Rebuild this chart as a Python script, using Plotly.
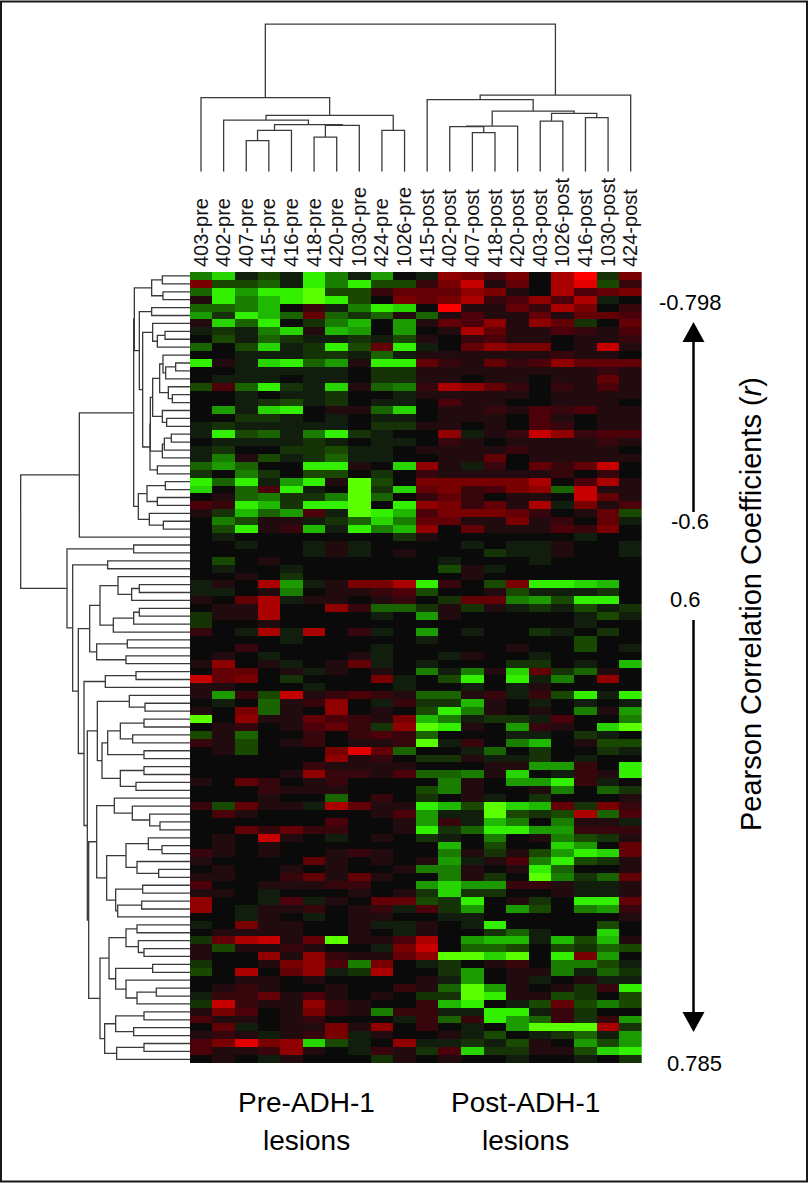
import plotly.graph_objects as go

W, H = 809, 1183

samples = ["403-pre", "402-pre", "407-pre", "415-pre", "416-pre", "418-pre", "420-pre", "1030-pre", "424-pre", "1026-pre",
           "415-post", "402-post", "407-post", "418-post", "420-post", "403-post", "1026-post", "416-post", "1030-post", "424-post"]

# Signed expression level per row, -10 (green) .. +10 (red)
rows_top = [
    [-5,-8,-1,-3,-1,-9,-5,-1,-6,0,-1,6,5,3,5,0,7,10,-2,5],
    [5,-3,-3,-4,-1,-9,-5,-9,-3,-3,2,5,8,1,4,0,7,9,-3,2],
    [-4,-9,-6,-9,-9,-10,-3,-3,2,4,4,4,6,5,1,0,7,3,4,5],
    [1,-9,-5,-7,-9,-10,-9,-3,0,5,4,5,7,2,3,6,3,7,-1,0],
    [-4,-4,-5,-7,0,2,-1,-5,-9,-8,0,10,1,1,4,2,7,5,0,2],
    [-6,-2,-9,-7,-4,4,-4,-2,-4,1,-4,1,3,1,1,4,1,4,4,3],
    [1,-8,-4,-9,0,-2,-5,-7,0,-6,1,4,3,6,1,6,4,-2,0,4],
    [-1,-2,-1,-5,-8,1,-7,-6,0,-6,0,1,7,4,1,1,3,2,1,3],
    [0,-3,-1,-4,-2,-1,-1,-2,-1,-3,1,0,2,3,1,1,0,1,1,2],
    [-4,0,-3,-8,-1,-2,-9,-3,4,-9,-1,0,4,6,5,5,0,1,8,1],
    [0,0,-1,-1,-1,-2,-2,-1,-4,-1,1,1,1,1,1,1,2,1,1,0],
    [-9,1,-1,-8,-9,-4,-6,1,-9,-9,4,2,1,4,2,3,6,4,4,4],
    [0,0,-1,-1,-1,-1,-1,0,-2,-2,1,1,1,1,1,1,1,1,2,1],
    [0,-1,-1,-1,0,-1,-1,0,-2,-2,1,1,0,1,1,0,1,1,4,1],
    [-3,3,-4,-9,-2,-1,-8,1,-4,-5,2,7,6,4,2,0,2,1,3,1],
    [0,0,-1,0,-1,-1,-2,0,0,-1,1,1,1,1,1,0,1,1,1,1],
    [0,0,-1,-2,-3,-1,-2,0,-1,-1,0,3,1,1,0,0,1,1,1,0],
    [0,-6,-1,-8,-9,0,1,1,-4,-8,0,1,1,2,1,3,2,3,1,1],
    [0,0,-2,-2,-1,0,-1,0,-1,-1,0,1,1,1,0,3,1,0,1,1],
    [-1,-2,-1,-1,-1,-1,-1,0,-2,-2,1,1,0,1,0,3,2,0,1,1],
    [-1,-9,-3,-4,-1,-5,-9,-2,-1,0,0,6,-1,1,2,8,6,2,3,3],
    [0,-1,-1,-1,-1,-2,-1,0,-1,-1,0,2,1,0,1,1,1,1,2,1],
    [-1,-2,0,0,-2,-2,-3,-1,-1,0,1,1,1,1,2,1,1,1,1,0],
    [-1,-5,1,-3,-1,-2,-4,-1,-1,0,0,1,1,4,0,1,1,1,1,1],
    [-4,-6,-4,0,0,-9,-9,1,0,-8,6,1,-1,2,0,4,2,4,8,0],
    [-2,0,-5,-2,0,-3,-3,0,-2,0,2,1,1,1,1,1,2,0,2,0],
    [-9,-4,-9,-1,-6,-9,1,-10,-3,0,5,5,5,5,5,7,0,3,7,1],
    [-8,0,-4,3,-9,-1,0,-10,-2,-8,4,5,2,3,5,6,-4,8,1,1],
    [0,1,-4,-5,-2,-2,-5,-10,-4,0,2,4,2,0,1,1,0,8,4,1],
    [3,2,-9,-7,-2,-9,-9,-10,0,-9,6,5,2,4,1,7,-1,5,1,3],
    [1,-2,-7,-4,-6,3,-1,-10,-9,-7,3,5,5,5,4,2,0,1,4,-3],
    [0,-5,-3,1,1,-1,-2,-4,-8,-5,4,4,1,1,5,1,2,0,4,-1],
    [0,-3,-9,1,2,-7,-1,-9,-5,-7,6,0,4,1,1,1,3,2,5,0],
]
rows_middle = [
    [0,-1,0,0,0,0,0,0,0,-2,1,0,0,0,0,0,0,-1,0,0],
    [0,0,-1,0,0,-1,1,-1,0,0,0,0,-1,0,-1,-1,1,0,0,-1],
    [0,0,0,0,0,-1,1,-1,0,1,0,0,0,-2,-1,-1,1,0,0,-1],
    [0,-3,0,1,0,0,0,0,0,0,0,-1,0,0,0,-1,0,0,0,0],
    [0,-1,0,0,-1,0,0,0,0,0,0,-3,1,-1,0,0,0,0,0,0],
    [0,0,1,0,-2,0,0,0,0,0,0,0,1,0,0,0,0,0,0,0],
    [-1,1,0,7,-6,-1,1,5,5,7,-9,2,0,-3,5,-9,-9,-8,-7,0],
    [-1,-1,0,1,-5,0,1,1,2,3,-3,0,0,1,-3,-1,-1,-1,-2,0],
    [1,0,4,7,-1,1,1,0,1,2,0,-2,4,4,-5,-6,-3,-9,-9,0],
    [0,1,1,7,0,0,6,2,-4,-4,-2,1,-2,1,-1,-2,-1,-3,-1,-2],
    [-2,1,1,7,0,0,0,0,-1,0,-6,1,0,0,0,0,0,-1,-3,-1],
    [-2,0,0,1,0,0,0,0,0,0,0,0,0,0,0,0,0,-1,0,0],
    [2,0,-1,7,-1,7,0,2,-1,0,-6,0,-1,0,0,-2,-1,0,-2,0],
    [0,0,0,0,-1,0,0,0,0,0,-1,0,0,0,0,0,0,-3,0,0],
    [0,0,2,0,0,0,0,0,-1,0,0,0,0,0,1,0,0,-3,0,-1],
    [0,1,0,-1,0,0,0,1,-1,0,0,-1,1,0,0,-1,0,0,0,0],
    [1,6,0,1,-1,0,1,4,-1,0,-1,0,0,0,-2,-2,0,-1,0,-7],
    [0,4,4,0,1,-1,1,0,1,0,-5,-1,-5,1,-8,4,-2,-4,1,0],
    [8,4,5,0,-2,0,0,0,5,-1,0,-3,-9,0,-9,-1,-5,0,6,0],
    [1,1,0,0,0,-1,0,0,0,-1,0,0,-1,0,-1,1,0,0,0,0],
    [1,-6,2,-3,8,1,2,3,2,1,-4,-4,1,2,-1,2,-3,-9,-1,-9],
    [0,-1,0,-4,1,2,6,0,-1,2,-2,-2,-7,1,0,-1,0,-1,0,-1],
    [1,0,5,-4,1,0,6,0,1,0,-3,-9,-5,1,0,1,0,-5,1,-6],
    [-10,0,6,1,1,4,3,2,1,5,-7,-5,-1,-2,-2,-1,3,0,0,-5],
    [0,1,2,0,1,3,4,2,-2,6,-10,-9,1,0,-6,2,1,0,-8,-10],
    [-3,1,-4,0,0,2,0,2,3,2,-4,0,0,0,-1,-1,0,-2,-1,0],
    [2,1,-3,0,1,2,0,1,1,2,-10,-1,2,0,-5,-7,0,1,-3,-3],
    [0,1,-3,0,0,0,5,9,4,-4,0,0,-1,-4,0,-2,0,0,-2,-1],
    [0,0,0,0,0,0,6,1,2,0,-2,-2,1,-1,-1,-2,0,-1,0,0],
    [0,0,0,0,0,2,1,1,1,1,0,0,0,1,1,-6,-6,2,0,-9],
    [0,0,0,0,1,6,2,2,1,3,-4,-4,-5,1,-8,0,-1,2,1,-9],
    [1,0,4,2,0,1,2,0,0,0,0,-5,1,0,-6,-6,-9,2,-1,0],
    [0,0,0,2,1,1,1,0,0,0,-3,-5,1,0,0,1,-5,0,-4,-2],
    [0,0,0,1,0,0,-4,0,2,0,-2,0,1,-1,0,-2,0,0,0,1],
]
rows_bottom = [
    [2,-3,4,1,1,-1,7,4,1,1,-9,-7,-3,-10,-8,-7,4,-2,5,2],
    [0,3,1,0,0,0,0,0,1,3,-6,-1,-1,-10,-3,-2,-3,7,-4,3],
    [0,0,0,0,0,0,3,0,0,1,-6,2,-1,-7,-5,0,-5,1,1,-1],
    [0,0,4,2,4,2,2,0,0,1,-9,-2,-4,-9,-9,-6,-6,2,2,2],
    [0,1,0,8,1,0,-1,0,1,0,-2,-1,0,-5,0,1,-5,-3,-2,1],
    [0,1,0,1,0,0,0,0,0,0,0,-7,0,-3,0,0,-8,-6,0,4],
    [2,1,0,1,0,0,1,2,1,0,0,-5,1,-2,1,-3,-6,-9,-8,4],
    [1,0,0,0,0,4,1,0,1,0,1,-6,-1,1,3,-5,-9,-3,-2,1],
    [0,1,0,0,1,0,1,0,0,1,-5,-5,1,0,1,-9,-4,0,0,1],
    [1,1,0,0,2,4,1,4,1,0,0,-5,1,-2,0,-10,-5,-2,-4,4],
    [3,0,0,1,1,1,2,2,0,0,-6,-8,-6,-6,2,2,1,-1,-1,1],
    [1,1,0,-1,0,0,0,1,0,1,-2,-8,-2,-2,0,0,1,-1,-1,1],
    [6,0,0,-1,3,-1,1,0,4,4,-3,-2,-9,0,1,-2,0,-9,-9,4],
    [6,0,-1,1,1,2,0,1,2,-1,3,-2,-6,0,-6,-3,0,-5,-6,2],
    [0,0,-1,1,0,-1,0,1,1,0,0,-1,-1,0,0,0,0,0,0,1],
    [-1,0,5,1,1,0,0,1,-1,-1,1,0,-1,-9,0,0,0,0,-3,0],
    [0,1,1,1,1,0,0,1,0,-1,1,0,0,-2,-4,-1,0,0,-8,0],
    [-2,4,7,8,1,4,-10,1,1,3,7,0,-6,-7,-7,-1,-7,-3,-7,1],
    [1,-3,1,1,2,1,0,0,-1,5,8,0,-4,-4,-3,0,-3,-2,-4,-3],
    [1,0,0,6,1,6,2,1,1,4,6,-10,-10,-8,-10,0,-9,5,-6,0],
    [-2,0,0,1,5,6,3,-5,5,0,-1,-2,0,1,2,0,-5,-5,-3,-1],
    [-3,0,7,0,4,6,-1,-2,7,0,0,-2,-6,0,1,1,-5,-1,-4,-2],
    [0,0,1,1,0,1,0,0,0,0,1,-1,-6,0,1,-1,0,1,-1,-1],
    [0,1,2,1,0,0,1,0,0,2,1,-4,-10,-6,1,0,1,-2,2,-9],
    [-1,2,2,4,1,3,1,0,1,0,-2,-2,-10,-9,1,1,-3,-2,0,-3],
    [-2,8,2,1,1,6,2,1,0,0,2,-7,-9,0,-1,-3,4,-3,-5,-3],
    [1,5,3,0,1,5,2,1,-5,2,2,-1,-1,-9,-9,-1,2,-2,0,0],
    [3,1,1,0,1,2,0,0,0,-1,2,-4,2,-9,-6,-4,2,-2,2,-6],
    [0,4,-1,0,1,1,5,1,6,0,2,0,-1,0,-6,-10,-10,-10,7,-2],
    [1,2,1,-1,1,2,5,-1,1,0,0,1,-1,-3,0,-1,-2,-4,-1,-6],
    [3,5,9,5,6,-8,-3,-1,0,6,-1,-1,-2,-1,-3,1,0,-6,-3,-6],
    [3,1,1,2,6,1,0,-1,2,1,-2,3,-8,-2,-2,1,1,-3,-8,-9],
    [0,1,0,-1,1,0,0,0,-2,1,0,1,0,0,-1,0,0,-1,0,-2],
]
expression = rows_top + rows_middle + rows_bottom

colorscale_stops = [
    (-10, "rgb(90,255,0)"), (-9, "rgb(50,240,0)"), (-7, "rgb(30,185,0)"), (-5, "rgb(25,125,0)"),
    (-3, "rgb(25,72,0)"), (-1, "rgb(17,30,14)"), (0, "rgb(10,10,10)"), (1, "rgb(33,11,15)"),
    (3, "rgb(76,0,10)"), (5, "rgb(120,0,0)"), (7, "rgb(170,0,0)"), (10, "rgb(255,0,0)"),
]

# Sample clustering: (distance, left, right); integers are column positions
col_tree = (443,
    (222, 0, (169, (155, 1, (141, (124, (93, 2, 3), 4), (139, (104, 5, 6), 7))), (124, 8, 9))),
    (230, (216, 10, (182, (137, (135, 11, (117, 12, 13)), 14),
                     (175, (152, 15, 16), (162, 17, 18)))), 19))

# Gene clustering: (distance, left, right); integers are row positions
c_0_3 = (115, (83, 0, 1), (81, 2, 3))
c_4_5 = (115, 4, 5)
c_6_9 = (112, 6, (98, (75, 7, 8), 9))
c_10_13 = (81, 10, (73, (43, 11, 12), 13))
c_14_16 = (65, 14, (53, 15, 16))
c_10_16 = (91, c_10_13, c_14_16)
c_17_19 = (83, 17, (70, 18, 19))
c_10_19 = (112, c_10_16, c_17_19)
c_20_23 = (83, (77, (56, 20, 21), 22), 23)
c_10_23 = (119, c_10_19, c_20_23)
c_10_25 = (120, c_10_23, (98, 24, 25))
c_6_25 = (142, c_6_9, c_10_25)
c_4_25 = (152, c_4_5, c_6_25)
c_0_25 = (167, c_0_3, c_4_25)
c_26_29 = (129, (74, 26, 27), (98, 28, 29))
c_30_32 = (122, 30, (80, 31, 32))
c_26_32 = (155, c_26_29, c_30_32)
c_0_32 = (169, c_0_25, c_26_32)
c_0_33 = (332, c_0_32, 33)
c_34_35 = (169, 34, 35)
c_36_37 = (247, 36, 37)
c_38_41 = (216, 38, (175, (152, 39, 40), 41))
c_42_45 = (230, (169, (152, 42, 43), 44), 45)
c_38_45 = (270, c_38_41, c_42_45)
c_46_49 = (280, (188, 46, 47), (192, 48, 49))
c_38_49 = (301, c_38_45, c_46_49)
c_50_52 = (254, (162, 50, 51), 52)
c_53_55 = (182, 53, (135, 54, 55))
c_56_61 = (247, (209, (138, 56, 57), (172, 58, 59)), (138, 60, 61))
c_62_65 = (209, (138, 62, 63), (162, 64, 65))
c_56_65 = (264, c_56_61, c_62_65)
c_53_65 = (278, c_53_55, c_56_65)
c_66_70 = (227, 66, (173, 67, (121, 68, (90, 69, 70))))
c_71_76 = (192, (125, 71, (84, 72, 73)), (159, 74, (94, 75, 76)))
c_77_81 = (223, (142, 77, 78), (217, (145, 79, 80), 81))
c_71_81 = (250, c_71_76, c_77_81)
c_66_81 = (280, c_66_70, c_71_81)
c_82_86 = (192, (159, 82, 83), (155, 84, (138, 85, 86)))
c_87_92 = (223, (112, 87, 88), (192, 89, (159, (101, 90, 91), 92)))
c_82_92 = (243, c_82_86, c_87_92)
c_93_99 = (256, (223, (138, 93, 94), (169, 95, 96)), (220, (138, 97, 98), 99))
c_82_99 = (270, c_82_92, c_93_99)
c_66_99 = (304, c_66_81, c_82_99)
c_53_99 = (308, c_53_65, c_66_99)
c_50_99 = (318, c_50_52, c_53_99)
c_38_99 = (335, c_38_49, c_50_99)
c_36_99 = (352, c_36_37, c_38_99)
c_34_99 = (369, c_34_35, c_36_99)
row_tree = (508, c_0_33, c_34_99)


def walk(node, pos, dist):
    """Append the elbow segments of a tree; returns the node's (position, distance)."""
    if isinstance(node, int):
        return node, 0
    d, left, right = node
    p1, d1 = walk(left, pos, dist)
    p2, d2 = walk(right, pos, dist)
    pos += [p1, p1, p2, p2, None]
    dist += [d1, d, d, d2, None]
    return (p1 + p2) / 2, d


def px(x):
    return x / W


def py(y):
    return 1 - y / H


col_pos, col_dist, row_pos, row_dist = [], [], [], []
walk(col_tree, col_pos, col_dist)
walk(row_tree, row_pos, row_dist)

zmin, zmax = -10, 10
fig = go.Figure()
fig.add_trace(go.Heatmap(
    z=expression, x=list(range(len(samples))), y=list(range(len(expression))),
    zmin=zmin, zmax=zmax, showscale=False, hoverinfo="skip",
    colorscale=[[(v - zmin) / (zmax - zmin), c] for v, c in colorscale_stops],
))
line = dict(color="rgb(58,58,58)", width=1.3)
fig.add_trace(go.Scatter(x=col_pos, y=col_dist, mode="lines", line=line, xaxis="x", yaxis="y2",
                         hoverinfo="skip", showlegend=False))
fig.add_trace(go.Scatter(x=row_dist, y=row_pos, mode="lines", line=line, xaxis="x2", yaxis="y",
                         hoverinfo="skip", showlegend=False))

LABEL = "Liberation Sans"
fig.update_layout(
    width=W, height=H, margin=dict(l=0, r=0, t=0, b=0), autosize=False,
    paper_bgcolor="white", plot_bgcolor="white", showlegend=False,
    font=dict(family=LABEL, color="black"),
    xaxis=dict(domain=[px(189.7), px(642)], range=[-0.5, 19.5], side="top", anchor="y",
               tickmode="array", tickvals=list(range(20)), ticktext=samples, tickangle=-90,
               tickfont=dict(size=20, color="rgb(20,20,20)"), showgrid=False, zeroline=False, showline=False,
               ticks="", ticklabelstandoff=4),
    yaxis=dict(domain=[py(1063.3), py(272)], range=[99.5, -0.5], visible=False, anchor="x"),
    yaxis2=dict(domain=[py(171.7), py(21.7)], range=[0, 450], visible=False, anchor="x"),
    xaxis2=dict(domain=[px(20), px(190)], range=[510, 0], visible=False, anchor="y"),
)

fig.add_shape(type="rect", xref="paper", yref="paper", x0=px(1), x1=px(807), y0=py(1181.5), y1=py(1.5),
              line=dict(color="rgb(25,25,25)", width=2), layer="above")


def text(x, y, s, size, angle=0):
    fig.add_annotation(xref="paper", yref="paper", x=px(x), y=py(y), text=s, showarrow=False,
                       font=dict(size=size, family=LABEL, color="black"), textangle=angle,
                       xanchor="center", yanchor="middle")


def arrow(x, y_tail, y_base, y_tip):
    fig.add_shape(type="line", xref="paper", yref="paper", x0=px(x), x1=px(x), y0=py(y_tail), y1=py(y_base),
                  line=dict(color="black", width=2.5))
    fig.add_shape(type="path", xref="paper", yref="paper", fillcolor="black", line=dict(width=0),
                  path=f"M {px(x - 11)} {py(y_base)} L {px(x + 11)} {py(y_base)} L {px(x)} {py(y_tip)} Z")


text(690, 303, "-0.798", 22)
text(690, 521, "-0.6", 22)
text(685, 599, "0.6", 22)
text(694, 1063, "0.785", 22)
text(751, 604, "Pearson Correlation Coefficients (<i>r</i>)", 29, -90)
text(306, 1102, "Pre-ADH-1", 28)
text(306, 1140, "lesions", 28)
text(525, 1102, "Post-ADH-1", 28)
text(525, 1140, "lesions", 28)
arrow(693.5, 512, 342, 322)
arrow(693.5, 620, 1012, 1032)

fig.write_html("out.html", config=dict(displayModeBar=False),
               post_script="document.body.style.margin='0';document.body.style.overflow='hidden';")
